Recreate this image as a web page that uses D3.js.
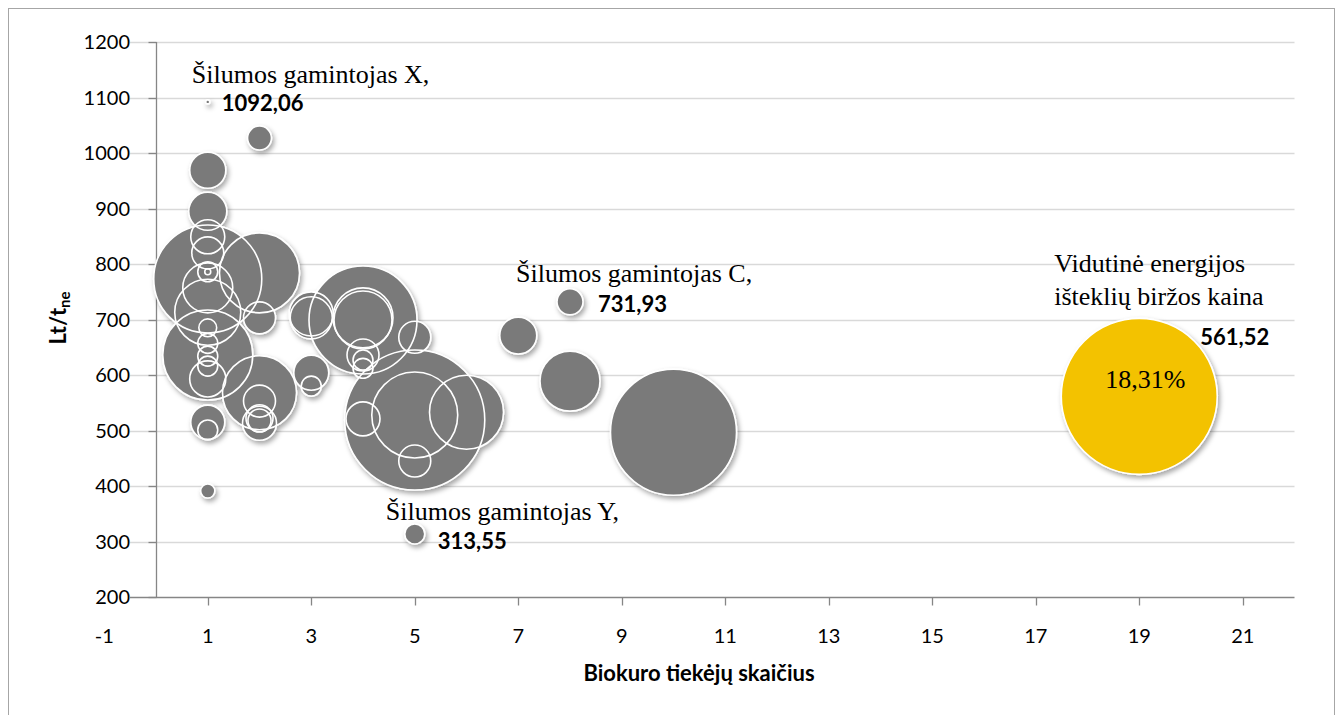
<!DOCTYPE html>
<html>
<head>
<meta charset="utf-8">
<script src="https://cdnjs.cloudflare.com/ajax/libs/d3/7.8.5/d3.min.js"></script>
<style>
  html, body { margin: 0; padding: 0; background: #fff; }
  svg { display: block; }
</style>
</head>
<body>
<script>
// ---- data ----
const supplierCount = [1,1,1,1,1,1,1,1,1,1,1,1,1,1,1,1,1,1,1,
                       2,2,2,2,2,2,2,2,
                       3,3,3,3,
                       4,4,4,4,4,4,4,
                       5,5,5,5,5,
                       6, 7, 8, 8, 10];
const price = [1092.06,969,895,849,820,786,786,757,773,713,636,685,657,634,616,593,515,501,391,
               1027,784,703,568,553,513,522,518,
               710,703,604,580,
               699,699,703,636,627,612,521,
               668,519,528,445,313.55,
               533, 671, 731.93, 589, 497];
const share = [0.012,0.98,1.09,0.87,0.77,0.30,0.027,1.88,8.78,3.28,6.09,0.24,0.30,0.30,0.30,0.98,0.87,0.30,0.15,
               0.43,4.82,0.77,4.12,0.77,0.87,0.55,0.40,
               1.46,1.33,0.92,0.30,
               8.78,2.53,2.71,0.77,0.30,0.30,0.87,
               0.77,14.75,5.56,0.77,0.30,
               4.12, 1.03, 0.51, 2.71, 11.95];

const exchangeX = 19, exchangePrice = 561.52, exchangeShare = 18.31;

const xTicks = [-1,1,3,5,7,9,11,13,15,17,19,21];
const yTicks = [200,300,400,500,600,700,800,900,1000,1100,1200];
const xTitle = "Biokuro tiekėjų skaičius";

const callouts = [
  {name: "Šilumos gamintojas X,", value: "1092,06", x: 1, y: 1092.06},
  {name: "Šilumos gamintojas C,", value: "731,93", x: 8, y: 731.93},
  {name: "Šilumos gamintojas Y,", value: "313,55", x: 5, y: 313.55}
];
const exchangeLabel = ["Vidutinė energijos", "išteklių biržos kaina"];
const exchangeValue = "561,52";
const exchangeShareLabel = "18,31%";

// ---- layout ----
const W = 1342, H = 715;
const svg = d3.select("body").append("svg").attr("width", W).attr("height", H);

const x = d3.scaleLinear().domain([-1, 22]).range([104.25, 1294.5]);
const y = d3.scaleLinear().domain([200, 1200]).range([597, 42]);
const r = d3.scaleSqrt().domain([0, exchangeShare]).range([0, 78]);

const defs = svg.append("defs");
const f = defs.append("filter").attr("id", "shadow")
  .attr("x", "-20%").attr("y", "-20%").attr("width", "140%").attr("height", "140%");
f.append("feDropShadow").attr("dx", 2).attr("dy", 3).attr("stdDeviation", 2.5)
  .attr("flood-color", "#000").attr("flood-opacity", 0.35);

// outer border
svg.append("rect").attr("x", 8.5).attr("y", 8.5).attr("width", 1326).attr("height", 720)
  .attr("fill", "none").attr("stroke", "#a6a6a6").attr("stroke-width", 1);

const gridLeft = 130;
// gridlines
svg.append("g").selectAll("line").data(yTicks.filter(d => d > 200)).join("line")
  .attr("x1", gridLeft).attr("x2", x(22))
  .attr("y1", d => Math.round(y(d)) + 0.5).attr("y2", d => Math.round(y(d)) + 0.5)
  .attr("stroke", "#d9d9d9").attr("stroke-width", 1.3);

// y axis
const yAxisX = Math.round(x(0)) + 0.5;
svg.append("line").attr("x1", yAxisX).attr("x2", yAxisX)
  .attr("y1", y(1200)).attr("y2", y(200)).attr("stroke", "#868686").attr("stroke-width", 1.3);
svg.append("g").selectAll("line").data(yTicks).join("line")
  .attr("x1", yAxisX - 8).attr("x2", yAxisX)
  .attr("y1", d => Math.round(y(d)) + 0.5).attr("y2", d => Math.round(y(d)) + 0.5)
  .attr("stroke", "#868686").attr("stroke-width", 1.3);
svg.append("g").selectAll("text").data(yTicks).join("text")
  .attr("x", 130).attr("y", d => y(d) + 7)
  .attr("text-anchor", "end")
  .attr("font-family", "Lato, 'Open Sans', sans-serif").attr("font-size", 20).attr("fill", "#000")
  .text(d => d);

// x axis
const xAxisY = Math.round(y(200)) + 0.5;
svg.append("line").attr("x1", gridLeft).attr("x2", x(22))
  .attr("y1", xAxisY).attr("y2", xAxisY).attr("stroke", "#868686").attr("stroke-width", 1.3);
svg.append("g").selectAll("line").data(xTicks.filter(d => d >= 0)).join("line")
  .attr("x1", d => Math.round(x(d)) + 0.5).attr("x2", d => Math.round(x(d)) + 0.5)
  .attr("y1", xAxisY).attr("y2", xAxisY + 8)
  .attr("stroke", "#868686").attr("stroke-width", 1.3);
svg.append("g").selectAll("text").data(xTicks).join("text")
  .attr("x", d => x(d)).attr("y", 643)
  .attr("text-anchor", "middle")
  .attr("font-family", "Lato, 'Open Sans', sans-serif").attr("font-size", 20).attr("fill", "#000")
  .text(d => d);

// axis titles
svg.append("text").attr("x", 699).attr("y", 681).attr("text-anchor", "middle")
  .attr("font-family", "Lato, sans-serif").attr("font-weight", "bold").attr("font-size", 22)
  .text(xTitle);
const yt = svg.append("text").attr("transform", "translate(66,318) rotate(-90)")
  .attr("text-anchor", "middle")
  .attr("font-family", "Lato, sans-serif").attr("font-weight", "bold").attr("font-size", 22);
yt.append("tspan").text("Lt/t");
yt.append("tspan").attr("font-size", 15).attr("dy", 4).text("ne");

// bubbles: fills first, then all outlines on top (outlines show through overlaps)
const bubbles = supplierCount.map((d, i) => ({x: d, y: price[i], s: share[i]}))
  .sort((a, b) => b.s - a.s);
const bg = svg.append("g").attr("filter", "url(#shadow)");
bg.append("g").selectAll("circle").data(bubbles).join("circle")
  .attr("cx", d => x(d.x)).attr("cy", d => y(d.y)).attr("r", d => r(d.s))
  .attr("fill", "#7a7a7a");
bg.append("g").selectAll("circle").data(bubbles).join("circle")
  .attr("cx", d => x(d.x)).attr("cy", d => y(d.y)).attr("r", d => r(d.s))
  .attr("fill", "none").attr("stroke", "#ffffff").attr("stroke-width", 1.6);

svg.append("g").attr("filter", "url(#shadow)")
  .append("circle")
  .attr("cx", x(exchangeX)).attr("cy", y(exchangePrice)).attr("r", r(exchangeShare))
  .attr("fill", "#f3c200").attr("stroke", "#ffffff").attr("stroke-width", 1.6);

// callouts
const serif = "'Liberation Serif', 'Times New Roman', serif";
const boldSans = "Lato, 'Open Sans', sans-serif";
callouts.forEach(c => {
  const offs = {X: [-16, -19, 14, 9], C: [-54, -20, 28, 10], Y: [-29, -14, 23, 15]}[c.name.slice(-2, -1)];
  svg.append("text").attr("x", x(c.x) + offs[0]).attr("y", y(c.y) + offs[1])
    .attr("font-family", serif).attr("font-size", 26).attr("fill", "#000").text(c.name);
  svg.append("text").attr("x", x(c.x) + offs[2]).attr("y", y(c.y) + offs[3])
    .attr("font-family", boldSans).attr("font-weight", "bold").attr("font-size", 22).attr("fill", "#000").text(c.value);
});
exchangeLabel.forEach((t, i) => {
  svg.append("text").attr("x", x(exchangeX) - 85).attr("y", y(exchangePrice) - 124 + i * 33)
    .attr("font-family", serif).attr("font-size", 26).attr("fill", "#000").text(t);
});
svg.append("text").attr("x", x(exchangeX) + 61).attr("y", y(exchangePrice) - 51)
  .attr("font-family", boldSans).attr("font-weight", "bold").attr("font-size", 22).attr("fill", "#000").text(exchangeValue);
svg.append("text").attr("x", x(exchangeX) + 6).attr("y", y(exchangePrice) - 8)
  .attr("text-anchor", "middle")
  .attr("font-family", serif).attr("font-size", 26).attr("fill", "#000").text(exchangeShareLabel);
</script>
</body>
</html>
